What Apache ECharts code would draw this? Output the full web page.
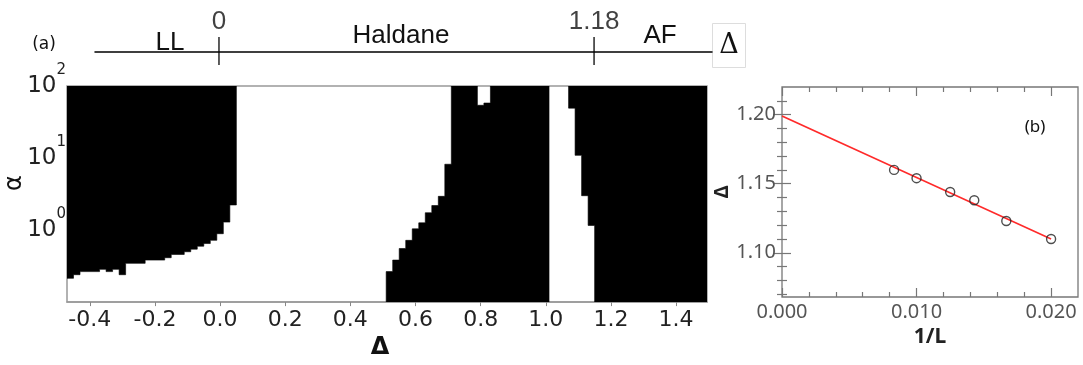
<!DOCTYPE html>
<html><head><meta charset="utf-8">
<script src="https://cdn.jsdelivr.net/npm/echarts@6/dist/echarts.min.js"></script>
<style>html,body{margin:0;padding:0;background:#fff}#c{width:1083px;height:365px}</style>
</head><body><div id="c"></div>
<script>
// ---------- Panel (a): phase diagram in (Delta, alpha) ----------
const xTicksA = [-0.4, -0.2, 0.0, 0.2, 0.4, 0.6, 0.8, 1.0, 1.2, 1.4];
const alphaMin = 0.1, alphaMax = 100;
// LL phase (black): lower alpha boundary on each Delta strip, black up to alphaMax
const llEdges    = [-0.47, -0.45, -0.43, -0.37, -0.35, -0.33, -0.31, -0.29, -0.23, -0.17, -0.15, -0.11, -0.09, -0.07, -0.05, -0.03, -0.01, 0.01, 0.03, 0.05];
const llAlphaLow = [0.214, 0.24, 0.265, 0.285, 0.265, 0.285, 0.24, 0.345, 0.383, 0.413, 0.459, 0.5, 0.543, 0.597, 0.65, 0.721, 0.89, 1.29, 2.23];
// region right of Haldane (black): from alphaMin up to an upper boundary
const hdEdges     = [0.51, 0.53, 0.55, 0.57, 0.59, 0.61, 0.63, 0.65, 0.67, 0.69, 0.71, 0.79, 0.81, 0.83, 1.01];
const hdAlphaHigh = [0.265, 0.383, 0.555, 0.72, 1.04, 1.26, 1.74, 2.19, 2.94, 8.2, 100, 54, 58, 100];
// AF phase (black): lower alpha boundary, black up to alphaMax
const afEdges    = [1.07, 1.09, 1.11, 1.13, 1.15, 1.495];
const afAlphaLow = [49.3, 10.9, 3.0, 1.16, 0.1];
// schematic phase line
const phaseBoundaries = [0, 1.18];
const phaseNames = ['LL', 'Haldane', 'AF'];

// ---------- Panel (b): finite-size extrapolation ----------
const invL   = [0.00833, 0.0100, 0.0125, 0.01429, 0.01667, 0.0200];
const deltaC = [1.160, 1.154, 1.144, 1.138, 1.123, 1.110];
const fitX = [0.0, 0.02];
const fitY = [1.199, 1.110];
const xTicksB = [0.0, 0.01, 0.02];
const xMinorB = [0.002, 0.004, 0.006, 0.008, 0.012, 0.014, 0.016, 0.018];
const yTicksB = [1.10, 1.15, 1.20];
const yMinorB = [1.07, 1.08, 1.09, 1.11, 1.12, 1.13, 1.14, 1.16, 1.17, 1.18, 1.19, 1.21];

function stepPolygon(edges, lows, highs) {
  const pts = [];
  for (let i = 0; i < edges.length - 1; i++) { pts.push([edges[i], lows[i]], [edges[i + 1], lows[i]]); }
  for (let i = edges.length - 2; i >= 0; i--) { pts.push([edges[i + 1], highs[i]], [edges[i], highs[i]]); }
  return pts;
}
const regions = [
  stepPolygon(llEdges, llAlphaLow, llAlphaLow.map(() => alphaMax)),
  stepPolygon(hdEdges, hdAlphaHigh.map(() => alphaMin), hdAlphaHigh),
  stepPolygon(afEdges, afAlphaLow, afAlphaLow.map(() => alphaMax))
];

const F = 'DejaVu Sans';
const FB = 'Noto Sans';
const FT = 'Liberation Sans';
const chart = echarts.init(document.getElementById('c'), null, {renderer: 'canvas'});
const tickB = (vals, len) => ({show: true, inside: true, length: len, customValues: vals, lineStyle: {color: '#777', width: 1.2}});
const option = {
  animation: false,
  backgroundColor: '#fff',
  grid: [
    {left: 67, right: 376, top: 86, bottom: 61, show: true, borderColor: '#999', borderWidth: 1.5, backgroundColor: 'transparent'},
    {left: 95, right: 371, top: 36, height: 28},
    {left: 782, right: 5, top: 87, bottom: 68, show: true, borderColor: '#777', borderWidth: 1.3, backgroundColor: 'transparent'},
    {left: 782, right: 5, top: 87, bottom: 68}
  ],
  xAxis: [
    {gridIndex: 0, type: 'value', min: -0.47, max: 1.495, splitLine: {show: false},
     axisLine: {show: true, onZero: false, lineStyle: {color: '#999', width: 1.5}},
     axisTick: {show: true, length: 4, customValues: xTicksA, lineStyle: {color: '#888'}},
     axisLabel: {customValues: xTicksA, formatter: v => v.toFixed(1), fontSize: 22, color: '#222', fontFamily: F, margin: 7},
     name: 'Δ', nameLocation: 'middle', nameGap: 33,
     nameTextStyle: {fontSize: 24, fontWeight: 'bold', color: '#111', fontFamily: F, padding: [0, 14, 0, 0]}},
    {gridIndex: 1, type: 'value', min: -0.39, max: 1.551, splitLine: {show: false},
     axisLine: {show: true, onZero: true, lineStyle: {color: '#000', width: 1.5}},
     axisTick: {show: false}, axisLabel: {show: false}},
    {gridIndex: 2, type: 'value', min: 0, max: 0.022, position: 'bottom', splitLine: {show: false},
     axisLine: {show: false}, axisTick: tickB(xTicksB, 9),
     axisLabel: {customValues: xTicksB, formatter: v => v.toFixed(3), fontSize: 20, color: '#555', fontFamily: FB, margin: 5},
     name: '1/L', nameLocation: 'middle', nameGap: 30,
     nameTextStyle: {fontSize: 21, fontWeight: 'bold', color: '#222', fontFamily: FB}},
    {gridIndex: 2, type: 'value', min: 0, max: 0.022, position: 'top', splitLine: {show: false},
     axisLine: {show: false}, axisTick: tickB(xTicksB, 9), axisLabel: {show: false}},
    {gridIndex: 3, type: 'value', min: 0, max: 0.022, position: 'bottom', splitLine: {show: false},
     axisLine: {show: false}, axisTick: tickB(xMinorB, 5), axisLabel: {show: false}},
    {gridIndex: 3, type: 'value', min: 0, max: 0.022, position: 'top', splitLine: {show: false},
     axisLine: {show: false}, axisTick: tickB(xMinorB, 5), axisLabel: {show: false}}
  ],
  yAxis: [
    {gridIndex: 0, type: 'log', logBase: 10, min: alphaMin, max: alphaMax, splitLine: {show: false},
     axisLine: {show: false}, axisTick: {show: false}, minorTick: {show: false},
     axisLabel: {showMinLabel: false, margin: 1, color: '#222', fontFamily: F,
       formatter: v => '{b|10}{s|' + Math.round(Math.log10(v)) + '}',
       rich: {b: {fontSize: 23, fontFamily: F, color: '#222'},
              s: {fontSize: 15, fontFamily: F, color: '#222', padding: [0, 0, 31, 0]}}}},
    {gridIndex: 1, type: 'value', min: -12, max: 16, show: false},
    {gridIndex: 2, type: 'value', min: 1.068, max: 1.22, position: 'left', splitLine: {show: false},
     axisLine: {show: false}, axisTick: tickB(yTicksB, 9),
     axisLabel: {customValues: yTicksB, formatter: v => v.toFixed(2), fontSize: 20, color: '#555', fontFamily: FB, margin: 6},
     name: 'Δ', nameLocation: 'middle', nameGap: 50, nameRotate: 90,
     nameTextStyle: {fontSize: 19, fontWeight: 'bold', color: '#222', fontFamily: FB}},
    {gridIndex: 2, type: 'value', min: 1.068, max: 1.22, position: 'right', splitLine: {show: false},
     axisLine: {show: false}, axisTick: tickB(yTicksB, 9), axisLabel: {show: false}},
    {gridIndex: 3, type: 'value', min: 1.068, max: 1.22, position: 'left', splitLine: {show: false},
     axisLine: {show: false}, axisTick: tickB(yMinorB, 5), axisLabel: {show: false}},
    {gridIndex: 3, type: 'value', min: 1.068, max: 1.22, position: 'right', splitLine: {show: false},
     axisLine: {show: false}, axisTick: tickB(yMinorB, 5), axisLabel: {show: false}}
  ],
  series: [
    {type: 'custom', coordinateSystem: 'cartesian2d', xAxisIndex: 0, yAxisIndex: 0, clip: true, silent: true,
     data: regions.map((r, i) => [r[0][0], r[0][1], i]), encode: {x: 0, y: 1},
     renderItem: (params, api) => {
       const poly = regions[api.value(2)];
       return {type: 'polygon', shape: {points: poly.map(p => api.coord(p))},
               style: {fill: '#000', stroke: '#000', lineWidth: 0.6}};
     }},
    {type: 'scatter', xAxisIndex: 1, yAxisIndex: 1, silent: true,
     data: phaseBoundaries.map(v => [v, 1]), symbol: 'rect', symbolSize: [1.6, 28],
     itemStyle: {color: '#000'},
     label: {show: true, position: 'top', distance: 2, formatter: p => String(p.value[0]),
             fontSize: 26, color: '#111', fontFamily: FT}},
    {type: 'line', xAxisIndex: 2, yAxisIndex: 2, silent: true, symbol: 'none',
     data: fitX.map((x, i) => [x, fitY[i]]), lineStyle: {color: '#ff2a2a', width: 1.6}, z: 3},
    {type: 'scatter', xAxisIndex: 2, yAxisIndex: 2, silent: true, symbol: 'circle', symbolSize: 9,
     data: invL.map((x, i) => [x, deltaC[i]]),
     itemStyle: {color: 'rgba(255,255,255,0)', borderColor: '#222', borderWidth: 1.4}, z: 4}
  ],
  graphic: [
    {type: 'text', x: 170, y: 42.5, style: {text: phaseNames[0], fontSize: 26, fontFamily: FT, fill: '#111', align: 'center', verticalAlign: 'middle'}},
    {type: 'text', x: 401, y: 36, style: {text: phaseNames[1], fontSize: 26, fontFamily: FT, fill: '#111', align: 'center', verticalAlign: 'middle'}},
    {type: 'text', x: 660, y: 36, style: {text: phaseNames[2], fontSize: 26, fontFamily: FT, fill: '#111', align: 'center', verticalAlign: 'middle'}},
    {type: 'rect', shape: {x: 712.5, y: 23.5, width: 33, height: 44}, style: {fill: '#fff', stroke: '#ddd', lineWidth: 1}},
    {type: 'text', x: 729, y: 46, style: {text: 'Δ', fontSize: 27, fontFamily: 'DejaVu Serif', fill: '#111', align: 'center', verticalAlign: 'middle'}},
    {type: 'text', x: 44, y: 45, style: {text: '(a)', fontSize: 17, fontFamily: F, fill: '#111', align: 'center', verticalAlign: 'middle'}},
    {type: 'text', x: 15, y: 183, rotation: Math.PI / 2, style: {text: 'α', fontSize: 24, fontFamily: F, fill: '#111', align: 'center', verticalAlign: 'middle'}},
    {type: 'text', x: 1035, y: 127, style: {text: '(b)', fontSize: 17, fontFamily: FB, fill: '#111', align: 'center', verticalAlign: 'middle'}}
  ]
};
chart.setOption(option);
</script>
</body></html>
